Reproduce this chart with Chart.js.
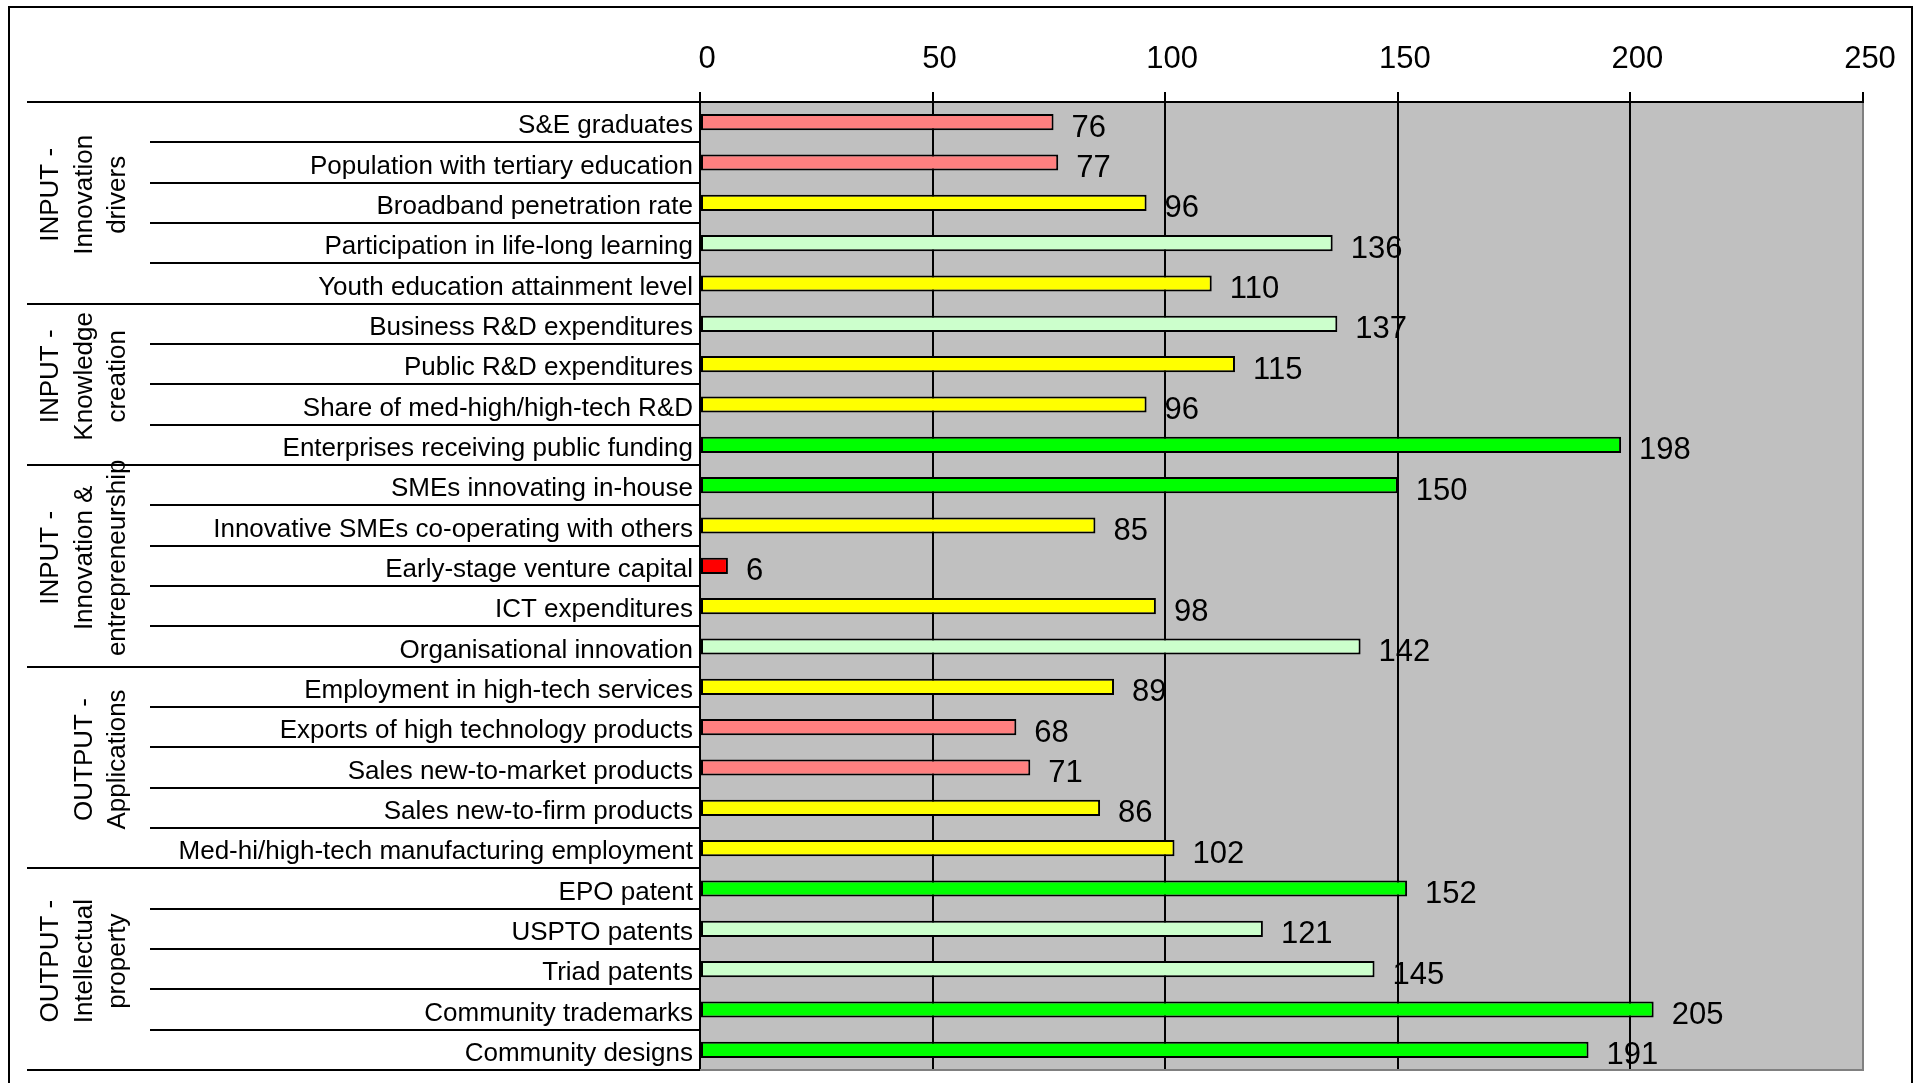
<!DOCTYPE html>
<html>
<head>
<meta charset="utf-8">
<script src="https://cdn.jsdelivr.net/npm/chart.js@4/dist/chart.umd.min.js"></script>
<style>
  html, body { margin: 0; padding: 0; background: #fff; overflow: hidden; }
  #wrap { position: relative; width: 1917px; height: 1083px; }
  canvas { display: block; }
</style>
</head>
<body>
<div id="wrap"><canvas id="scoreboard" width="1917" height="1083"></canvas></div>
<script>
// Indicator names, top to bottom
const indicators = [
  "S&E graduates",
  "Population with tertiary education",
  "Broadband penetration rate",
  "Participation in life-long learning",
  "Youth education attainment level",
  "Business R&D expenditures",
  "Public R&D expenditures",
  "Share of med-high/high-tech R&D",
  "Enterprises receiving public funding",
  "SMEs innovating in-house",
  "Innovative SMEs co-operating with others",
  "Early-stage venture capital",
  "ICT expenditures",
  "Organisational innovation",
  "Employment in high-tech services",
  "Exports of high technology products",
  "Sales new-to-market products",
  "Sales new-to-firm products",
  "Med-hi/high-tech manufacturing employment",
  "EPO patent",
  "USPTO patents",
  "Triad patents",
  "Community trademarks",
  "Community designs"
];

// Relative performance scores
const scores = [76, 77, 96, 136, 110, 137, 115, 96, 198, 150, 85, 6, 98, 142, 89, 68, 71, 86, 102, 152, 121, 145, 205, 191];

// Performance band of each indicator
const bands = [
  "below", "below", "near", "above", "near",
  "above", "near", "near", "top",
  "top", "near", "bottom", "near", "above",
  "near", "below", "below", "near", "near",
  "top", "above", "above", "top", "top"
];

// Indicator groups (title lines and number of indicators in each)
const groupTitles = [
  ["INPUT -", "Innovation", "drivers"],
  ["INPUT -", "Knowledge", "creation"],
  ["INPUT -", "Innovation &", "entrepreneurship"],
  ["OUTPUT -", "Applications"],
  ["OUTPUT -", "Intellectual", "property"]
];
const groupSizes = [5, 4, 5, 5, 5];

// Value axis ticks
const axisTicks = [0, 50, 100, 150, 200, 250];

const bandColors = {
  bottom: "#FF0000",
  below: "#FF8080",
  near: "#FFFF00",
  above: "#CCFFCC",
  top: "#00FF00"
};

const FONT = "'Liberation Sans', Arial, Helvetica, sans-serif";
Chart.defaults.font.family = FONT;
Chart.defaults.color = "#000";

// Frame, row rules, group titles and value labels
const scoreboardDecor = {
  id: "scoreboardDecor",
  beforeDraw(chart) {
    const { ctx, chartArea: a } = chart;
    ctx.save();
    ctx.fillStyle = "#fff";
    ctx.fillRect(0, 0, chart.width, chart.height);
    ctx.fillStyle = "#C0C0C0";
    ctx.fillRect(a.left, a.top, a.right - a.left, a.bottom - a.top);
    ctx.restore();
  },
  afterDatasetsDraw(chart) {
    const { ctx } = chart;
    const meta = chart.getDatasetMeta(0);
    ctx.save();
    ctx.font = "31px " + FONT;
    ctx.fillStyle = "#000";
    ctx.textAlign = "left";
    ctx.textBaseline = "middle";
    meta.data.forEach((bar, i) => {
      ctx.fillText(String(scores[i]), bar.x + 18, bar.y + 6);
    });
    ctx.restore();
  },
  afterDraw(chart) {
    const { ctx, chartArea: a } = chart;
    const ys = chart.scales.y;
    const n = indicators.length;
    const rowH = (a.bottom - a.top) / n;
    const edge = i => ys.getPixelForValue(i) - rowH / 2;

    ctx.save();
    ctx.strokeStyle = "#000";
    ctx.lineWidth = 2;

    // group boundaries and indicator rules
    const groupStarts = [];
    let acc = 0;
    groupSizes.forEach(s => { groupStarts.push(acc); acc += s; });
    for (let i = 0; i <= n; i++) {
      const y = Math.round(i === n ? a.bottom : edge(i));
      const isGroup = i === n || groupStarts.includes(i);
      ctx.beginPath();
      ctx.moveTo(isGroup ? 27 : 150, y);
      ctx.lineTo(a.left, y);
      ctx.stroke();
    }

    // bottom edge of the plot
    ctx.strokeStyle = "#808080";
    ctx.beginPath();
    ctx.moveTo(a.left, Math.round(a.bottom));
    ctx.lineTo(a.right + 1, Math.round(a.bottom));
    ctx.stroke();

    // rotated group titles
    ctx.fillStyle = "#000";
    ctx.font = "26px " + FONT;
    ctx.textAlign = "center";
    ctx.textBaseline = "alphabetic";
    groupTitles.forEach((lines, g) => {
      const first = groupStarts[g];
      const last = first + groupSizes[g];
      const top = edge(first);
      const bottom = last === n ? a.bottom : edge(last);
      const cy = (top + bottom) / 2 - 8;
      lines.forEach((line, k) => {
        const bx = 125 - (lines.length - 1 - k) * 33.5;
        ctx.save();
        ctx.translate(bx, cy);
        ctx.rotate(-Math.PI / 2);
        ctx.fillText(line, 0, 0);
        ctx.restore();
      });
    });

    // outer frame
    ctx.strokeStyle = "#000";
    ctx.lineWidth = 2;
    ctx.beginPath();
    ctx.moveTo(9, chart.height + 2);
    ctx.lineTo(9, 7);
    ctx.lineTo(1912, 7);
    ctx.lineTo(1912, chart.height + 2);
    ctx.stroke();
    ctx.restore();
  }
};

new Chart(document.getElementById("scoreboard"), {
  type: "bar",
  data: {
    labels: indicators,
    datasets: [{
      data: scores,
      backgroundColor: bands.map(b => bandColors[b]),
      borderColor: "#000",
      borderWidth: 2,
      borderSkipped: false,
      barPercentage: 0.40,
      categoryPercentage: 1.0
    }]
  },
  options: {
    indexAxis: "y",
    responsive: false,
    animation: false,
    devicePixelRatio: 1,
    layout: { padding: { top: 0, left: 0, right: 54, bottom: 13 } },
    plugins: {
      legend: { display: false },
      tooltip: { enabled: false }
    },
    scales: {
      x: {
        position: "top",
        min: axisTicks[0],
        max: axisTicks[axisTicks.length - 1],
        afterBuildTicks(scale) { scale.ticks = axisTicks.map(v => ({ value: v })); },
        afterFit(scale) {
          scale.height = 102;
          scale.paddingLeft = 0;
          scale.paddingRight = 0;
        },
        ticks: {
          font: { size: 31 },
          color: "#000",
          padding: 14,
          labelOffset: 7,
          maxRotation: 0
        },
        grid: {
          color: ctx => (ctx.tick && ctx.tick.value === 250 ? "#808080" : "#000"),
          tickColor: "#000",
          lineWidth: 2,
          tickLength: 10,
          drawOnChartArea: true
        },
        border: { display: true, color: "#000", width: 2 }
      },
      y: {
        type: "category",
        afterFit(scale) {
          scale.width = 700;
          scale.paddingTop = 0;
          scale.paddingBottom = 0;
        },
        ticks: {
          font: { size: 26 },
          color: "#000",
          padding: 7,
          labelOffset: 4,
          autoSkip: false
        },
        grid: { display: true, drawOnChartArea: false, drawTicks: false },
        border: { display: true, color: "#000", width: 2 }
      }
    }
  },
  plugins: [scoreboardDecor]
});
</script>
</body>
</html>
